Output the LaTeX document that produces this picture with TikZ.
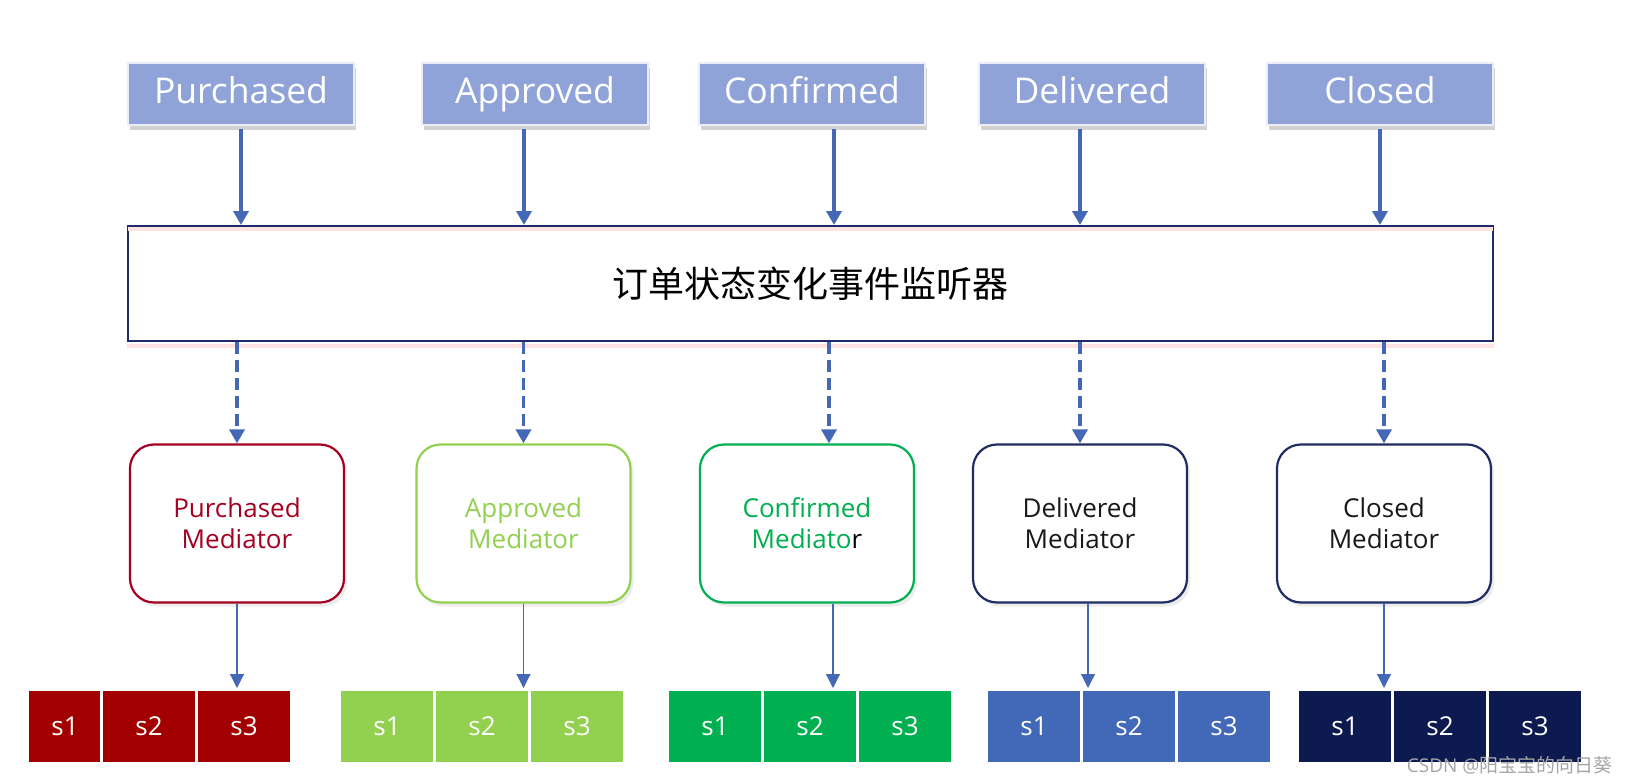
\documentclass[tikz,border=0pt]{standalone}
\usepackage{fontspec}
\setmainfont{Open Sans}
\newfontfamily\cjk{Noto Sans CJK SC}
\usetikzlibrary{arrows.meta,shadows}

\definecolor{stateblue}{HTML}{8FA3D9}
\definecolor{arrowblue}{HTML}{4467B6}
\definecolor{listenernavy}{HTML}{1F2A6B}
\definecolor{medred}{HTML}{A50021}
\definecolor{medlime}{HTML}{92D050}
\definecolor{medgreen}{HTML}{00B050}
\definecolor{mednavy}{HTML}{1F2D64}
\definecolor{cellred}{HTML}{A20000}
\definecolor{cellblue}{HTML}{4268B8}
\definecolor{cellnavy}{HTML}{0C1A4F}

\tikzset{
  statebox/.style={draw=white!80!stateblue, line width=1.5pt, fill=stateblue, text=white,
    minimum width=226pt, minimum height=62pt, font=\fontsize{35.5}{40}\selectfont,
    text height=26pt, text depth=8pt,
    drop shadow={shadow xshift=2pt, shadow yshift=-5pt, opacity=0.35}},
  listener/.style={draw=listenernavy, line width=2pt, fill=white,
    minimum width=1365pt, minimum height=115pt, font=\cjk\fontsize{36}{40}\selectfont},
  mediator/.style={draw=#1, line width=2.2pt, rounded corners=24pt, fill=white,
    minimum width=214pt, minimum height=158pt, align=center,
    font=\fontsize{26}{31}\selectfont,
    drop shadow={shadow xshift=3pt, shadow yshift=-4pt, opacity=0.15}},
  cell/.style={fill=#1, draw=white, line width=3pt, text=white, inner sep=0pt,
    minimum width=95pt, minimum height=74pt, font=\fontsize{26}{30}\selectfont},
  glow/.style={draw=red!11, line width=4pt},
  toparrow/.style={draw=arrowblue, line width=3.5pt, -{Triangle[width=15pt,length=14pt]}},
  dasharrow/.style={toparrow, dash pattern=on 12pt off 6pt},
  lowarrow/.style={draw=arrowblue, line width=1.2pt, -{Triangle[width=14pt,length=14pt]}}
}

\begin{document}
\begin{tikzpicture}[x=1pt,y=-1pt]
		%%%%% START %%%%%
		\useasboundingbox[fill=white] (0,0) rectangle (1628,784);
		
		% order states
		\node[statebox] (tPurchased) at (241,94) {Purchased};
		\node[statebox] (tApproved) at (535,94) {Approved};
		\node[statebox] (tConfirmed) at (812,94) {Confirmed};
		\node[statebox] (tDelivered) at (1092,94) {Delivered};
		\node[statebox] (tClosed) at (1380,94) {Closed};
		
		% listener
		\node[listener] (listen) at (810.5,283.5) {订单状态变化事件监听器};
		\draw[glow] ([xshift=1pt,yshift=-4pt]listen.north west) -- ([xshift=-1pt,yshift=-4pt]listen.north east);
		\draw[glow] ([yshift=-4pt]listen.south west) -- ([yshift=-4pt]listen.south east);
		
		% mediators
		\node[mediator=medred, text=medred] (mPurchased) at (237,523.5) {Purchased\\Mediator};
		\node[mediator=medlime, text=medlime] (mApproved) at (523.5,523.5) {Approved\\Mediator};
		\node[mediator=medgreen, text=medgreen] (mConfirmed) at (807,523.5) {Confirmed\\Mediato{\color{black}r}};
		\node[mediator=mednavy, text=black!90] (mDelivered) at (1080,523.5) {Delivered\\Mediator};
		\node[mediator=mednavy, text=black!90] (mClosed) at (1384,523.5) {Closed\\Mediator};
		
		% steps
		\node[cell=cellred, minimum width=75pt] (pS1) at (65,726.5) {s1};
		\node[cell=cellred] (pS2) at (149,726.5) {s2};
		\node[cell=cellred] (pS3) at (244,726.5) {s3};
		
		\node[cell=medlime] (aS1) at (387,726.5) {s1};
		\node[cell=medlime] (aS2) at (482,726.5) {s2};
		\node[cell=medlime] (aS3) at (577,726.5) {s3};
		
		\node[cell=medgreen] (cS1) at (715,726.5) {s1};
		\node[cell=medgreen] (cS2) at (810,726.5) {s2};
		\node[cell=medgreen] (cS3) at (905,726.5) {s3};
		
		\node[cell=cellblue] (dS1) at (1034,726.5) {s1};
		\node[cell=cellblue] (dS2) at (1129,726.5) {s2};
		\node[cell=cellblue] (dS3) at (1224,726.5) {s3};
		
		\node[cell=cellnavy] (xS1) at (1345,726.5) {s1};
		\node[cell=cellnavy] (xS2) at (1440,726.5) {s2};
		\node[cell=cellnavy] (xS3) at (1535,726.5) {s3};
		
		% state -> listener
		\draw[toparrow] ([yshift=-3pt]tPurchased.south) -- (tPurchased.south |- listen.north);
		\draw[toparrow] ([xshift=-11pt,yshift=-3pt]tApproved.south) -- ([xshift=-11pt]tApproved.south |- listen.north);
		\draw[toparrow] ([xshift=22pt,yshift=-3pt]tConfirmed.south) -- ([xshift=22pt]tConfirmed.south |- listen.north);
		\draw[toparrow] ([xshift=-12pt,yshift=-3pt]tDelivered.south) -- ([xshift=-12pt]tDelivered.south |- listen.north);
		\draw[toparrow] ([yshift=-3pt]tClosed.south) -- (tClosed.south |- listen.north);
		
		% listener -> mediator
		\draw[dasharrow] (listen.south -| mPurchased.north) -- (mPurchased.north);
		\draw[dasharrow] (listen.south -| mApproved.north) -- (mApproved.north);
		\draw[dasharrow] ([xshift=22pt]listen.south -| mConfirmed.north) -- ([xshift=22pt]mConfirmed.north);
		\draw[dasharrow] (listen.south -| mDelivered.north) -- (mDelivered.north);
		\draw[dasharrow] (listen.south -| mClosed.north) -- (mClosed.north);
		
		% mediator -> steps
		\draw[lowarrow] (mPurchased.south) -- (mPurchased.south |- pS3.north);
		\draw[lowarrow] (mApproved.south) -- (mApproved.south |- aS2.north);
		\draw[lowarrow] ([xshift=26pt]mConfirmed.south) -- ([xshift=26pt]mConfirmed.south |- cS2.north);
		\draw[lowarrow] ([xshift=8pt]mDelivered.south) -- ([xshift=8pt]mDelivered.south |- dS2.north);
		\draw[lowarrow] (mClosed.south) -- (mClosed.south |- xS1.north);
		
		\node[text=black!35, anchor=east, font=\fontsize{19}{22}\selectfont] (mark) at (1616,765) {CSDN @{\cjk 阳宝宝的向日葵}};
		%%%%% END %%%%%
\end{tikzpicture}
\end{document}
